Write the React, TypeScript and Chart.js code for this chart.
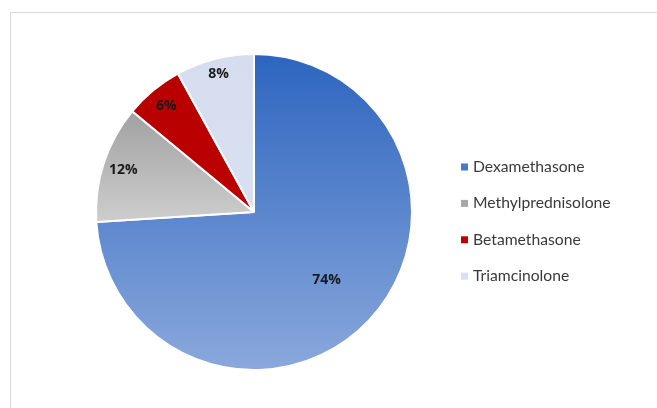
import React, { useEffect, useRef } from "react";
import { Chart, registerables } from "chart.js";

Chart.register(...registerables);

const categories = ["Dexamethasone", "Methylprednisolone", "Betamethasone", "Triamcinolone"];
const values = [74, 12, 6, 8];
const labelTexts = ["74%", "12%", "6%", "8%"];
const gradientTop = ["#2d65bf", "#9e9e9e", "#b80000", "#d6ddef"];
const gradientBottom = ["#8aa8dc", "#cbcbcb", "#c00000", "#dbe2f2"];
const legendSwatch = ["#4a78c8", "#a8a8a8", "#c00000", "#d9e0f1"];
const labelRadius = [0.63, 0.87, 0.87, 0.9];

export default function App() {
  const ref = useRef<HTMLCanvasElement>(null);

  useEffect(() => {
    document.body.style.margin = "0";
    const canvas = ref.current!;
    const bgPlugin = {
      id: "bgFrame",
      beforeDraw(chart: any) {
        const c = chart.ctx;
        c.save();
        c.fillStyle = "#ffffff";
        c.fillRect(0, 0, chart.width, chart.height);
        c.strokeStyle = "#d9d9d9";
        c.lineWidth = 1;
        c.strokeRect(10.5, 12.5, chart.width + 10, chart.height + 10);
        c.restore();
      },
    };
    const labelPlugin = {
      id: "sliceLabels",
      afterDatasetsDraw(chart: any) {
        const c = chart.ctx;
        const meta = chart.getDatasetMeta(0);
        c.save();
        c.font = "bold 14px 'Open Sans', sans-serif";
        c.fillStyle = "#1a1a1a";
        c.textAlign = "center";
        c.textBaseline = "middle";
        meta.data.forEach((arc: any, i: number) => {
          const { x, y, startAngle, endAngle, outerRadius } = arc.getProps(
            ["x", "y", "startAngle", "endAngle", "outerRadius"], true);
          const mid = (startAngle + endAngle) / 2;
          const r = outerRadius * labelRadius[i];
          c.fillText(labelTexts[i], x + Math.cos(mid) * r, y + Math.sin(mid) * r);
        });
        c.restore();
      },
    };
    const legendPlugin = {
      id: "sideLegend",
      afterDraw(chart: any) {
        const c = chart.ctx;
        c.save();
        c.font = "15.7px Lato, sans-serif";
        c.textBaseline = "middle";
        categories.forEach((name, i) => {
          const y = 167 + i * 36.4;
          c.fillStyle = legendSwatch[i];
          c.fillRect(461, y - 3.5, 7, 7);
          c.fillStyle = "#3a3a3a";
          c.fillText(name, 473, y);
        });
        c.restore();
      },
    };
    const chart = new Chart(canvas, {
      type: "pie",
      data: {
        labels: categories,
        datasets: [
          {
            data: values,
            backgroundColor: (ctx: any) => {
              const ch = ctx.chart;
              const area = ch.chartArea;
              const i = ctx.dataIndex;
              if (!area || i === undefined) return gradientTop[i ?? 0];
              const g = ch.ctx.createLinearGradient(0, area.top, 0, area.bottom);
              g.addColorStop(0, gradientTop[i]);
              g.addColorStop(1, gradientBottom[i]);
              if (i === 1) {
                const g2 = ch.ctx.createLinearGradient(0, area.top + 50, 0, area.top + 162);
                g2.addColorStop(0, gradientTop[i]);
                g2.addColorStop(1, gradientBottom[i]);
                return g2;
              }
              return g;
            },
            borderColor: "#ffffff",
            borderWidth: 2,
          },
        ],
      },
      options: {
        animation: false,
        responsive: false,
        radius: 158,
        layout: { padding: { top: 54, bottom: 38, left: 96, right: 245 } },
        plugins: {
          legend: { display: false },
          tooltip: { enabled: false },
        },
      } as any,
      plugins: [bgPlugin, labelPlugin, legendPlugin],
    });
    return () => chart.destroy();
  }, []);

  return <canvas ref={ref} width={657} height={408} style={{ display: "block" }} />;
}
